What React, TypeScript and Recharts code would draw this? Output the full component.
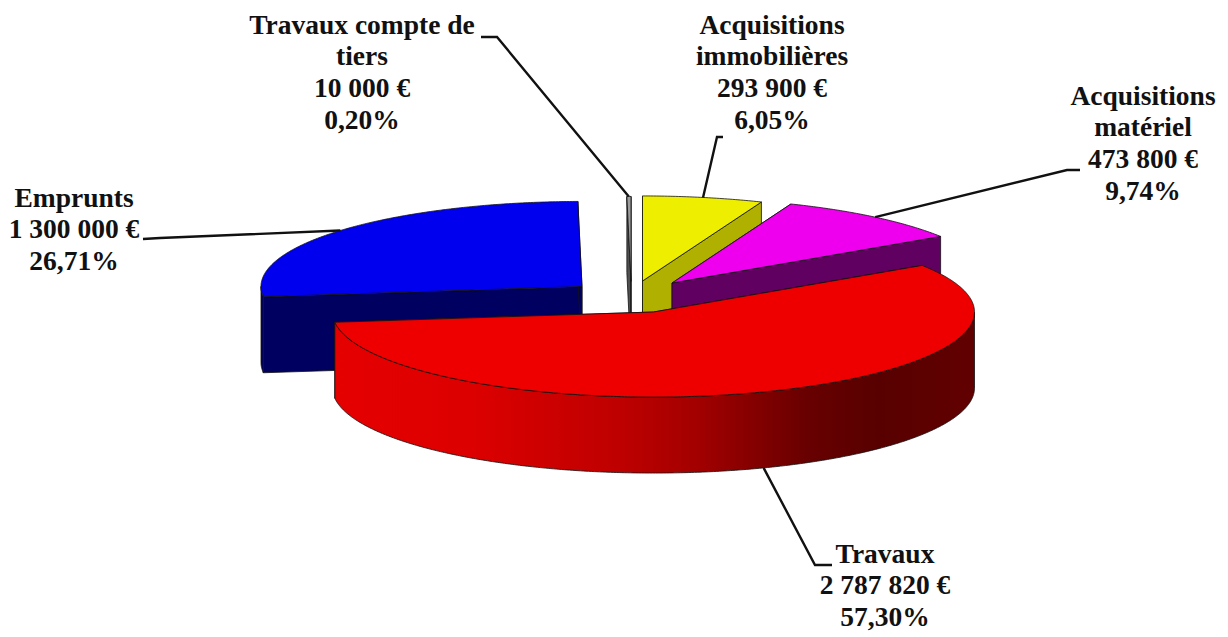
import React from "react";
import { PieChart, Pie, Cell } from "recharts";

const categories = ["Emprunts", "Travaux compte de tiers", "Acquisitions immobilières", "Acquisitions matériel", "Travaux"];
const amounts = [1300000, 10000, 293900, 473800, 2787820];
const labelLines = [
  ["Emprunts", "1 300 000 €", "26,71%"],
  ["Travaux compte de", "tiers", "10 000 €", "0,20%"],
  ["Acquisitions", "immobilières", "293 900 €", "6,05%"],
  ["Acquisitions", "matériel", "473 800 €", "9,74%"],
  ["Travaux", "2 787 820 €", "57,30%"],
];
const topColors = ["#0000EE", "#9C9C9C", "#EEEE00", "#EE00EE", "#EE0000"];
const sideColors = ["#000060", "#505050", "#B0B000", "#600060", "url(#redWall)"];

const tableData = categories.map((name, i) => ({ name, value: amounts[i] }));

// Layout only: slice explosion, projection and label placement
const W = 1228;
const H = 637;
const CX = 640;
const CY = 280;
const RX = 321;
const TILT = 0.265;
const DEPTH = 76;
const OFFSETS = [[-58, 6.5], [-9, 1.5], [2.5, 1], [32, 3], [13.5, 32]];
const LABELS = [
  { x: 74, y: 197, elbow: [[143, 239], [160, 238]], onWall: false },
  { x: 362, y: 24, elbow: [[481, 37], [497, 37]], onWall: false },
  { x: 772, y: 24, elbow: [[723, 137], [717, 137]], onWall: false },
  { x: 1143, y: 95, elbow: [[1080, 170], [1067, 170]], onWall: false },
  { x: 885, y: 553, elbow: [[832, 565], [815, 565]], onWall: true },
];
const LINE_GAP = 31.8;

const rad = (d: number) => (d * Math.PI) / 180;
const pt = (x: number, y: number, r: number, a: number): [number, number] => [
  x + r * Math.cos(rad(a)),
  y - r * TILT * Math.sin(rad(a)),
];
const toPath = (pts: [number, number][]) =>
  "M" + pts.map((p) => `${p[0].toFixed(2)},${p[1].toFixed(2)}`).join("L") + "Z";

function Slice(props: any) {
  const { cx, cy, outerRadius, startAngle, endAngle, index, fill } = props;
  const [dx, dy] = OFFSETS[index];
  const x = cx + dx;
  const y = cy + dy;
  const r = outerRadius;
  const arc: [number, number][] = [];
  const steps = Math.max(2, Math.ceil(Math.abs(endAngle - startAngle) * 2));
  for (let i = 0; i <= steps; i++) {
    const a = startAngle + ((endAngle - startAngle) * i) / steps;
    arc.push(pt(x, y, r, a));
  }
  const front: [number, number][] = [];
  for (let i = 0; i <= steps; i++) {
    const a = startAngle + ((endAngle - startAngle) * i) / steps;
    if (Math.sin(rad(a)) <= 0.002) front.push(pt(x, y, r, a));
  }
  const down = (p: [number, number]): [number, number] => [p[0], p[1] + DEPTH];
  const apex: [number, number] = [x, y];
  const first = arc[0];
  const last = arc[arc.length - 1];
  const side = sideColors[index];
  const edge = { stroke: "#111", strokeWidth: 0.8, strokeLinejoin: "round" as const };
  return (
    <g>
      {index === 4 && (
        <defs>
          <linearGradient id="redWall" gradientUnits="userSpaceOnUse" x1={x - r} x2={x + r} y1={0} y2={0}>
            <stop offset="0" stopColor="#E60000" />
            <stop offset="0.22" stopColor="#DC0000" />
            <stop offset="0.45" stopColor="#BE0000" />
            <stop offset="0.57" stopColor="#A20000" />
            <stop offset="0.74" stopColor="#680000" />
            <stop offset="0.85" stopColor="#580000" />
            <stop offset="1" stopColor="#620000" />
          </linearGradient>
        </defs>
      )}
      <path d={toPath([apex, first, down(first), down(apex)])} fill={side} {...edge} />
      <path d={toPath([apex, last, down(last), down(apex)])} fill={side} {...edge} />
      {front.length > 1 && (
        <path d={toPath([...front, ...front.slice().reverse().map(down)])} fill={side} {...edge} />
      )}
      <path d={toPath([apex, ...arc])} fill={fill} {...edge} />
    </g>
  );
}

function SliceLabel(props: any) {
  const { cx, cy, outerRadius, startAngle, endAngle, index } = props;
  const [dx, dy] = OFFSETS[index];
  const spec = LABELS[index];
  const mid = index === 1 ? endAngle + 0.4 : (startAngle + endAngle) / 2;
  const anchor = pt(cx + dx, cy + dy + (spec.onWall ? DEPTH : 0), outerRadius, mid);
  const points = [...spec.elbow, anchor].map((p) => p.join(",")).join(" ");
  return (
    <g>
      <polyline points={points} fill="none" stroke="#111" strokeWidth={2.4} />
      {labelLines[index].map((line, i) => (
        <text
          key={i}
          x={spec.x}
          y={spec.y + i * LINE_GAP}
          textAnchor="middle"
          dominantBaseline="central"
          fontFamily="'Liberation Serif', serif"
          fontWeight="bold"
          fontSize={27.5}
          fill="#111"
        >
          {line}
        </text>
      ))}
    </g>
  );
}

export default function App() {
  const total = amounts.reduce((s, v) => s + v, 0);
  const start = 90 + ((amounts[0] + amounts[1]) / total) * 360;
  return (
    <div style={{ position: "absolute", left: 0, top: 0, width: W, height: H, background: "#fff" }}>
      <PieChart width={W} height={H} margin={{ top: 0, right: 0, bottom: 0, left: 0 }}>
        <Pie
          data={tableData}
          dataKey="value"
          nameKey="name"
          cx={CX}
          cy={CY}
          innerRadius={0}
          outerRadius={RX}
          startAngle={start}
          endAngle={start - 360}
          stroke="none"
          isAnimationActive={false}
          shape={Slice}
          label={SliceLabel}
          labelLine={false}
        >
          {tableData.map((d, i) => (
            <Cell key={d.name} fill={topColors[i]} />
          ))}
        </Pie>
      </PieChart>
    </div>
  );
}
